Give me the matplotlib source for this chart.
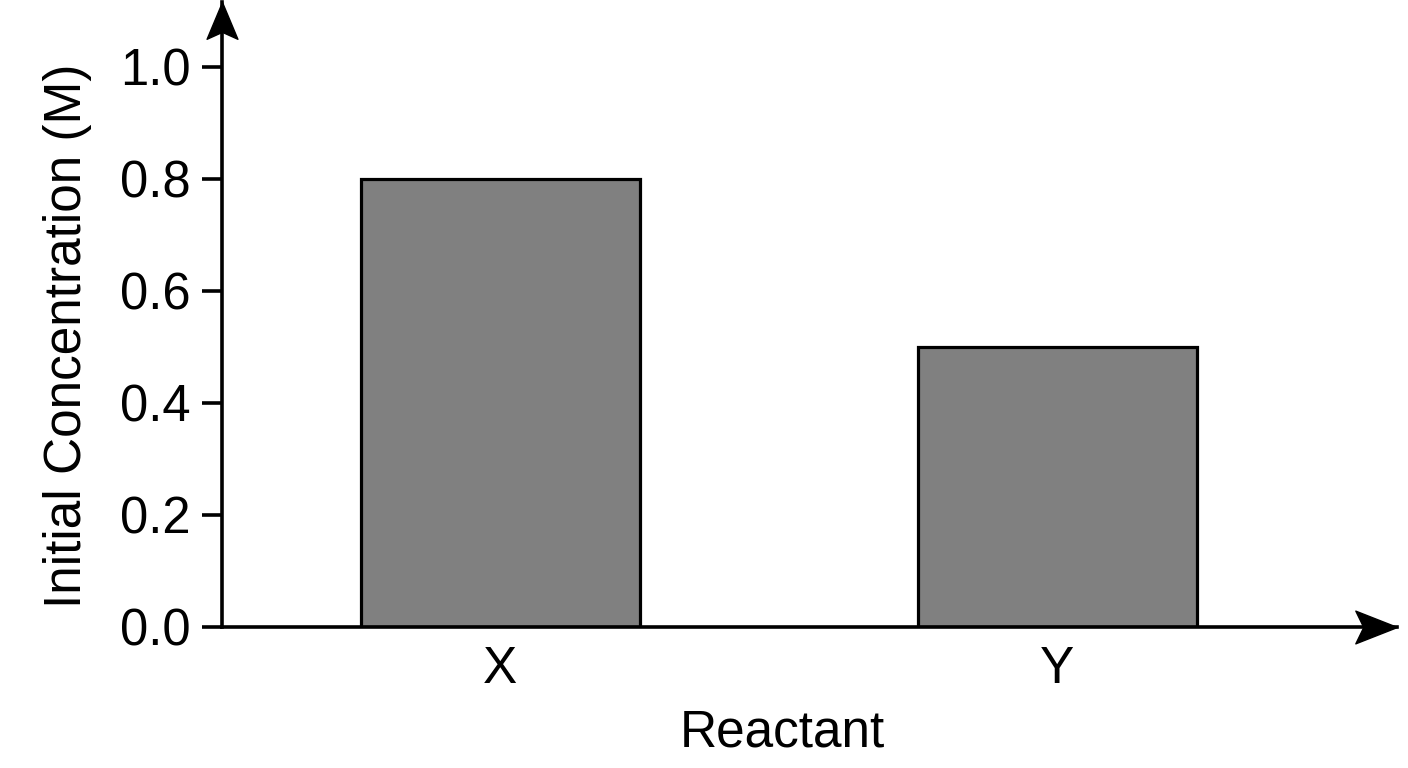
import numpy as np
import matplotlib
matplotlib.use('Agg')
import matplotlib.pyplot as plt
from matplotlib.path import Path

reactants = ['X', 'Y']
concentration = [0.8, 0.5]
yticks = [0.0, 0.2, 0.4, 0.6, 0.8, 1.0]


def arrow_marker(length, half_width, notch, up=False):
    # tip at the origin so the marker sits right on the axis end
    verts = [(0, 0), (-length, half_width), (-length + notch, 0),
             (-length, -half_width), (0, 0)]
    if up:
        verts = [(y, x) for x, y in verts]
    codes = [Path.MOVETO, Path.LINETO, Path.LINETO, Path.LINETO,
             Path.CLOSEPOLY]
    return Path(verts, codes)


def main():
    plt.rcParams['font.family'] = ['Liberation Sans', 'DejaVu Sans']
    fig = plt.figure(figsize=(14.08, 7.68), dpi=100)
    ax = fig.add_axes([222 / 1408, 1 - 627 / 768,
                       (1397 - 222) / 1408, 625 / 768])

    x = np.arange(len(reactants))
    ax.bar(x, concentration, width=0.5, color='#808080',
           edgecolor='black', linewidth=2.3)

    ax.set_xlim(-0.5, 1.61)
    ax.set_ylim(0, 1.116)
    ax.set_xticks(x)
    ax.set_xticklabels(reactants)
    ax.set_yticks(yticks)
    ax.set_yticklabels(['%.1f' % t for t in yticks])

    for side in ['top', 'right']:
        ax.spines[side].set_visible(False)
    for side in ['left', 'bottom']:
        ax.spines[side].set_linewidth(2.6)

    ax.tick_params(axis='y', length=14.5, width=2.6, labelsize=36.5, pad=8)
    ax.tick_params(axis='x', length=0, labelsize=37, pad=13)

    ax.set_xlabel('Reactant', fontsize=37)
    ax.xaxis.set_label_coords(0.4766, -0.13)
    ax.set_ylabel('Initial Concentration (M)', fontsize=37, labelpad=20)
    ax.yaxis.label.set_y(0.4656)

    # arrow heads at the end of both axes
    x_head = arrow_marker(42, 16.5, 8)
    y_head = arrow_marker(37, 15.5, 7, up=True)
    ax.plot([1], [0], marker=x_head, markersize=60, color='black',
            transform=ax.transAxes, clip_on=False)
    ax.plot([0], [1], marker=y_head, markersize=53, color='black',
            transform=ax.transAxes, clip_on=False)

    fig.savefig('out.png', dpi=100)


if __name__ == '__main__':
    main()
